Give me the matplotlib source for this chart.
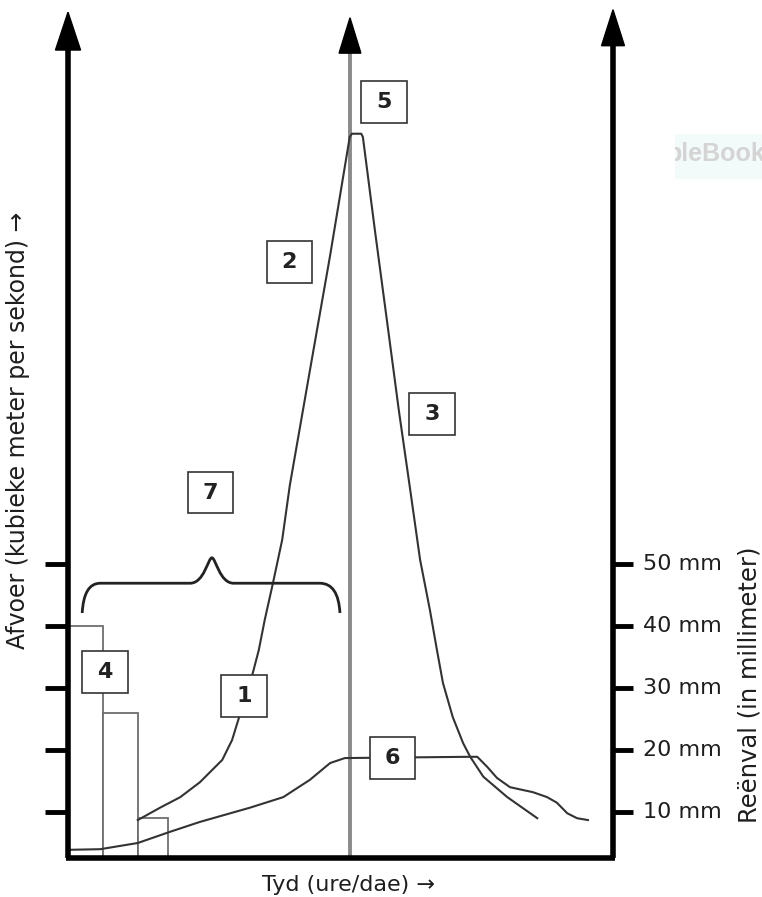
import matplotlib.pyplot as plt
import numpy as np
from matplotlib.patches import Rectangle, PathPatch
from matplotlib.path import Path

plt.rcParams['font.family'] = ['DejaVu Sans']

# tyd: 0 = linker as, 100 = regter as ; afvoer en reenval in mm-eenhede
hydro_t = [12.8, 16.9, 20.6, 24.2, 28.3, 30.1, 31.4, 33.9, 35.0, 36.1, 37.6, 39.3, 40.7, 44.4,
           48.1, 51.7, 52.1, 53.8, 54.1, 56.3, 58.5, 60.7, 62.8, 64.6, 66.4, 67.7, 68.8, 70.6,
           72.5, 73.8, 76.2, 80.6, 86.1]
hydro_q = [8.7, 10.7, 12.4, 14.8, 18.4, 21.6, 25.3, 32.4, 36.1, 41.0, 46.9, 53.9, 62.7, 81.3,
           99.8, 118.9, 119.4, 119.4, 118.9, 103.9, 89.4, 74.8, 61.9, 50.7, 42.6, 36.1, 30.8, 25.3,
           21.1, 18.9, 15.7, 12.4, 9.0]

base_t = [0.0, 5.9, 12.8, 18.7, 24.2, 33.4, 39.5, 44.4, 48.1, 50.8, 73.2, 75.1, 76.9,
          78.7, 81.1, 85.3, 87.9, 89.7, 91.6, 93.4, 95.4]
base_q = [3.9, 4.0, 5.0, 6.8, 8.4, 10.7, 12.4, 15.2, 17.9, 18.7, 18.9, 18.9, 17.3,
          15.5, 14.0, 13.2, 12.4, 11.5, 9.8, 9.0, 8.7]

rain_edges = [0, 6.4, 12.8, 18.4]
rain_mm = [40, 26, 9]

tick_mm = [10, 20, 30, 40, 50]
tick_labels = ['10 mm', '20 mm', '30 mm', '40 mm', '50 mm']

box_labels = ['1', '2', '3', '4', '5', '6', '7']
box_t = [32.3, 40.6, 66.8, 6.8, 58.0, 59.5, 26.1]
box_q = [28.7, 98.7, 74.2, 32.6, 124.5, 18.7, 61.5]

brace_t = [2.6, 26.4, 49.9]   # links, punt, regs
brace_q = [42.1, 46.9, 51.0]  # ente, plat, punt

q0 = 2.58       # onderste as
mid_t = 51.74   # middellyn

fig = plt.figure(figsize=(7.62, 8.97), dpi=100)
ax = fig.add_axes([0, 0, 1, 1])
ax.set_xlim(-12.48, 127.34)
ax.set_ylim(-3.71, 140.97)
ax.axis('off')

# reenval stawe
for i in range(len(rain_mm)):
    ax.add_patch(Rectangle((rain_edges[i], q0), rain_edges[i + 1] - rain_edges[i], rain_mm[i] - q0,
                           facecolor='white', edgecolor='#6e6e6e', lw=1.3, zorder=2))

# middellyn
ax.plot([mid_t, mid_t], [q0, 133], color='#8a8a8a', lw=2.8, zorder=1)

# asse
ax.plot([0, 0], [q0, 134], color='black', lw=4, zorder=5, solid_capstyle='butt')
ax.plot([100, 100], [q0, 134], color='black', lw=4, zorder=5, solid_capstyle='butt')
ax.plot([-0.3, 100.3], [q0, q0], color='black', lw=4, zorder=5, solid_capstyle='butt')
for x, tip, base, hw in [(0, 139.0, 132.9, 2.3), (mid_t, 138.1, 132.4, 2.0), (100, 139.4, 133.6, 2.1)]:
    ax.fill([x - hw, x, x + hw], [base, tip, base], color='black', zorder=6)

# merkies
for m in tick_mm:
    ax.plot([-4.2, 0], [m, m], color='black', lw=3.5, zorder=5, solid_capstyle='butt')
    ax.plot([100, 103.7], [m, m], color='black', lw=3.5, zorder=5, solid_capstyle='butt')
for m, lab in zip(tick_mm, tick_labels):
    ax.text(105.5, m, lab, ha='left', va='center', fontsize=16, color='#1e1e1e')

# kurwes
ax.plot(hydro_t, hydro_q, color='#333333', lw=1.5, zorder=3)
ax.plot(base_t, base_q, color='#333333', lw=1.5, zorder=3)

# hakie
L, M, R = brace_t
qe, qf, qt = brace_q
verts = [(L, qe), (L + 0.3, qf), (L + 3.3, qf), (M - 4, qf),
         (M - 1.4, qf), (M - 0.7, qt), (M, qt),
         (M + 0.7, qt), (M + 1.4, qf), (M + 4, qf),
         (R - 3.7, qf), (R - 0.3, qf), (R, qe)]
codes = [Path.MOVETO, Path.CURVE3, Path.CURVE3, Path.LINETO,
         Path.CURVE4, Path.CURVE4, Path.CURVE4,
         Path.CURVE4, Path.CURVE4, Path.CURVE4,
         Path.LINETO, Path.CURVE3, Path.CURVE3]
ax.add_patch(PathPatch(Path(verts, codes), facecolor='none', edgecolor='#222222', lw=2, zorder=3))

# genommerde blokkies
bw, bh = 8.3, 6.7
for lab, t, q in zip(box_labels, box_t, box_q):
    ax.add_patch(Rectangle((t - bw / 2, q - bh / 2), bw, bh, facecolor='white',
                           edgecolor='#333333', lw=1.2, zorder=7))
    ax.text(t, q, lab, ha='center', va='center', fontsize=16, fontweight='bold',
            color='#222222', zorder=8)

# as-titels
ax.text(-9.2, 71.6, 'Afvoer (kubieke meter per sekond) →', rotation=90, ha='center',
        va='center', fontsize=17, color='#1e1e1e')
ax.text(125.1, 30.6, 'Reënval (in millimeter)', rotation=90, ha='center', va='center',
        fontsize=17.5, color='#1e1e1e')
ax.text(51.4, -1.8, 'Tyd (ure/dae) →', ha='center', va='center', fontsize=16, color='#1e1e1e')

# watermerk (links afgesny)
ax.add_patch(Rectangle((111.4, 112.1), 17, 7.3, facecolor='#f3fafa', edgecolor='none', zorder=0))
ax.text(109.85, 116.1, 'bleBook', ha='left', va='center', fontsize=18, fontweight='bold',
        family='Liberation Sans', color='#d4d4d4', zorder=1)
ax.add_patch(Rectangle((104, 111), 7.4, 10, facecolor='white', edgecolor='none', zorder=2))

fig.savefig('out.png', dpi=100)
